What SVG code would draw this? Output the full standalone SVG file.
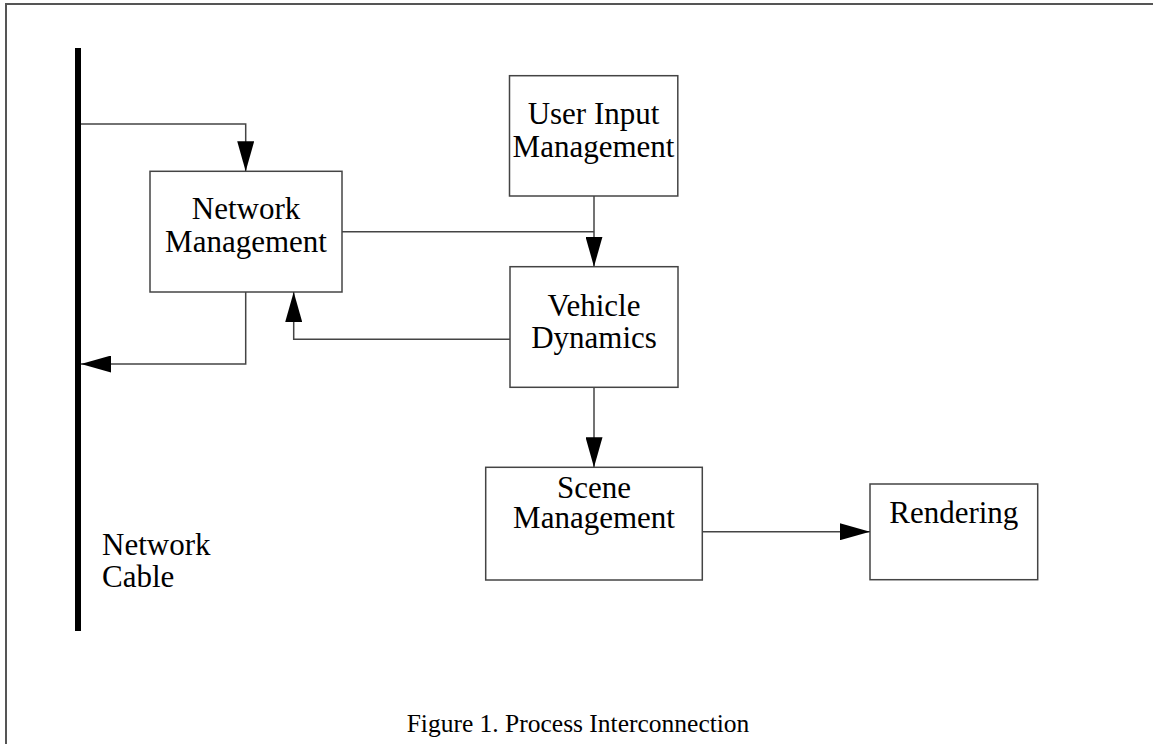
<svg xmlns="http://www.w3.org/2000/svg" width="1153" height="744" viewBox="0 0 1153 744">
  <style>
    .box { fill: #ffffff; stroke: #444444; stroke-width: 1.5; }
    .wire { fill: none; stroke: #444444; stroke-width: 1.5; }
    .lbl { font-family: "Liberation Serif", "Times New Roman", serif; font-size: 31px; fill: #000000; text-anchor: middle; }
    .lbl-left { font-family: "Liberation Serif", "Times New Roman", serif; font-size: 31px; fill: #000000; }
    .caption { font-family: "Liberation Serif", "Times New Roman", serif; font-size: 25.5px; fill: #000000; text-anchor: middle; }
  </style>
  <defs>
    <marker id="arrow" markerUnits="userSpaceOnUse" markerWidth="30" markerHeight="17" refX="30" refY="8.5" orient="auto">
      <path d="M0,0 L30,8.5 L0,17 Z" fill="#000000"/>
    </marker>
  </defs>

  <rect x="0" y="0" width="1153" height="744" fill="#ffffff"/>

  <!-- page frame (top and left edges) -->
  <path d="M6,744 V4 H1153" fill="none" stroke="#555555" stroke-width="2"/>

  <!-- network cable -->
  <g id="network-cable">
    <rect x="75" y="48" width="6" height="583" fill="#000000"/>
    <text class="lbl-left" x="102" y="555">Network</text>
    <text class="lbl-left" x="102" y="587">Cable</text>
  </g>

  <g id="network-management">
    <rect class="box" x="150" y="171.3" width="192" height="120.7"/>
    <text class="lbl" x="246" y="219">Network</text>
    <text class="lbl" x="246" y="251.5">Management</text>
  </g>

  <g id="user-input-management">
    <rect class="box" x="509.5" y="75.7" width="168.3" height="120.3"/>
    <text class="lbl" x="593.5" y="124">User Input</text>
    <text class="lbl" x="593.5" y="156.5">Management</text>
  </g>

  <g id="vehicle-dynamics">
    <rect class="box" x="510" y="266.7" width="168" height="120.6"/>
    <text class="lbl" x="594" y="316">Vehicle</text>
    <text class="lbl" x="594" y="348.3">Dynamics</text>
  </g>

  <g id="scene-management">
    <rect class="box" x="485.7" y="467.3" width="216.6" height="112.7"/>
    <text class="lbl" x="594" y="498.3">Scene</text>
    <text class="lbl" x="594" y="528.3">Management</text>
  </g>

  <g id="rendering">
    <rect class="box" x="870" y="484" width="167.7" height="95.7"/>
    <text class="lbl" x="953.8" y="523.3">Rendering</text>
  </g>

  <g id="connectors">
    <path class="wire" d="M81,124 H245.7 V171.3" marker-end="url(#arrow)"/>
    <path class="wire" d="M245.7,292 V364 H81" marker-end="url(#arrow)"/>
    <path class="wire" d="M510,339.3 H293.7 V292" marker-end="url(#arrow)"/>
    <path class="wire" d="M342,231.7 H594"/>
    <path class="wire" d="M594,196 V266.7" marker-end="url(#arrow)"/>
    <path class="wire" d="M594,387.3 V467.3" marker-end="url(#arrow)"/>
    <path class="wire" d="M702.3,531.7 H870" marker-end="url(#arrow)"/>
  </g>

  <text class="caption" x="578" y="731.7">Figure 1. Process Interconnection</text>
</svg>
